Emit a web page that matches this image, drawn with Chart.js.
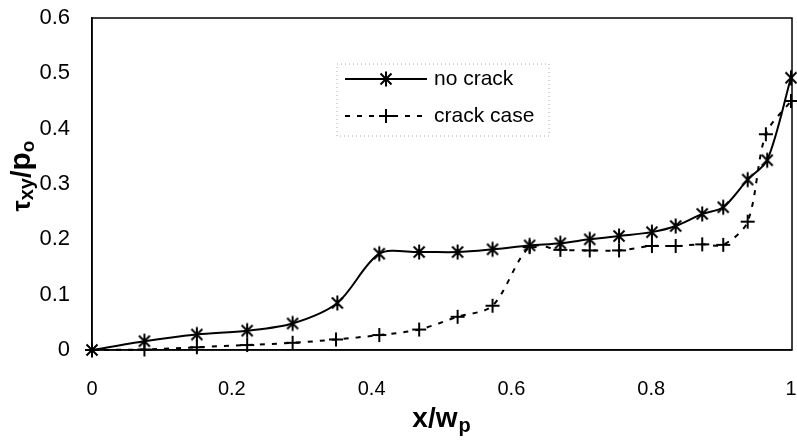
<!DOCTYPE html>
<html>
<head>
<meta charset="utf-8">
<script src="https://cdn.jsdelivr.net/npm/chart.js@4.4.1/dist/chart.umd.min.js"></script>
<style>
  body { margin: 0; background: #fff; }
  #wrap { width: 797px; height: 442px; }
</style>
</head>
<body>
<div id="wrap"><canvas id="chart" width="797" height="442"></canvas></div>
<script>
// values
var xNoCrack = [0, 0.075, 0.15, 0.222, 0.287, 0.351, 0.411, 0.468, 0.523, 0.573, 0.626, 0.670, 0.712, 0.754, 0.801, 0.835, 0.873, 0.903, 0.938, 0.966, 1.0];
var yNoCrack = [0, 0.016, 0.028, 0.035, 0.048, 0.085, 0.174, 0.177, 0.177, 0.182, 0.189, 0.193, 0.200, 0.206, 0.213, 0.224, 0.246, 0.258, 0.308, 0.343, 0.492];
var xCrack = [0, 0.075, 0.15, 0.222, 0.287, 0.349, 0.411, 0.468, 0.523, 0.573, 0.626, 0.670, 0.712, 0.754, 0.801, 0.835, 0.873, 0.903, 0.938, 0.964, 1.0];
var yCrack = [0, 0.001, 0.005, 0.009, 0.013, 0.019, 0.027, 0.037, 0.060, 0.080, 0.186, 0.181, 0.180, 0.180, 0.188, 0.188, 0.191, 0.190, 0.232, 0.390, 0.450];
var seriesNames = ['no crack', 'crack case'];
var xTicks = [0, 0.2, 0.4, 0.6, 0.8, 1];
var yTicks = [0, 0.1, 0.2, 0.3, 0.4, 0.5, 0.6];

var FONT = '"Liberation Sans", Arial, sans-serif';

function toPoints(xs, ys) {
  var pts = [];
  for (var i = 0; i < xs.length; i++) pts.push({x: xs[i], y: ys[i]});
  return pts;
}

// 6-armed asterisk like the old excel marker
function makeStar() {
  var c = document.createElement('canvas');
  c.width = 18; c.height = 18;
  var g = c.getContext('2d');
  g.strokeStyle = '#000';
  g.lineWidth = 2;
  g.beginPath();
  g.moveTo(9, 1.5); g.lineTo(9, 16.5);
  g.moveTo(3.5, 3.5); g.lineTo(14.5, 14.5);
  g.moveTo(14.5, 3.5); g.lineTo(3.5, 14.5);
  g.stroke();
  return c;
}
function makePlus() {
  var c = document.createElement('canvas');
  c.width = 16; c.height = 16;
  var g = c.getContext('2d');
  g.strokeStyle = '#000';
  g.lineWidth = 2;
  g.beginPath();
  g.moveTo(8, 1); g.lineTo(8, 15);
  g.moveTo(1, 8); g.lineTo(15, 8);
  g.stroke();
  return c;
}
var starImg = makeStar();
var plusImg = makePlus();

// border round the plot area
var framePlugin = {
  id: 'frame',
  afterDatasetsDraw: function(chart) {
    var a = chart.chartArea, ctx = chart.ctx;
    ctx.save();
    ctx.strokeStyle = '#000';
    ctx.lineWidth = 1.5;
    ctx.strokeRect(a.left, a.top, a.right - a.left + 1, a.bottom - a.top);
    ctx.restore();
  }
};

// legend box inside the plot
var legendPlugin = {
  id: 'boxLegend',
  afterDraw: function(chart) {
    var ctx = chart.ctx;
    ctx.save();
    ctx.strokeStyle = '#aaa';
    ctx.lineWidth = 1;
    ctx.setLineDash([1, 3]);
    ctx.strokeRect(337, 64, 212, 72);
    var rows = [79, 116];
    var imgs = [starImg, plusImg];
    for (var i = 0; i < 2; i++) {
      var ds = chart.data.datasets[i];
      ctx.strokeStyle = '#000';
      ctx.lineWidth = 2;
      ctx.setLineDash(ds.borderDash || []);
      ctx.beginPath();
      ctx.moveTo(345, rows[i]);
      ctx.lineTo(427, rows[i]);
      ctx.stroke();
      ctx.setLineDash([]);
      ctx.drawImage(imgs[i], 386 - imgs[i].width / 2, rows[i] - imgs[i].height / 2);
      ctx.fillStyle = '#000';
      ctx.font = '21px ' + FONT;
      ctx.textBaseline = 'middle';
      ctx.textAlign = 'left';
      ctx.fillText(ds.label, 434, rows[i]);
    }
    ctx.restore();
  }
};

// axis titles with subscripts
var titlePlugin = {
  id: 'axisTitles',
  afterDraw: function(chart) {
    var ctx = chart.ctx;
    ctx.save();
    ctx.fillStyle = '#000';
    ctx.textBaseline = 'alphabetic';
    ctx.textAlign = 'left';
    // x title
    ctx.font = 'bold 28px ' + FONT;
    var w1 = ctx.measureText('x/w').width;
    ctx.font = 'bold 20px ' + FONT;
    var w2 = ctx.measureText('p').width;
    var x0 = 441 - (w1 + w2) / 2;
    ctx.font = 'bold 28px ' + FONT;
    ctx.fillText('x/w', x0, 427);
    ctx.font = 'bold 20px ' + FONT;
    ctx.fillText('p', x0 + w1 + 1, 432);

    // y title, rotated
    var parts = [
      {t: '\u03C4', f: 'bold 25px ' + FONT, dy: 0},
      {t: 'xy', f: 'bold 20px ' + FONT, dy: 3},
      {t: '/', f: 'bold 27px ' + FONT, dy: 0},
      {t: 'p', f: 'bold 30px ' + FONT, dy: 0},
      {t: 'o', f: 'bold 19px ' + FONT, dy: 4}
    ];
    var total = 0;
    parts.forEach(function(p) { ctx.font = p.f; p.w = ctx.measureText(p.t).width; total += p.w; });
    ctx.translate(30, 176);
    ctx.rotate(-Math.PI / 2);
    var cx = -total / 2;
    parts.forEach(function(p) {
      ctx.font = p.f;
      ctx.fillText(p.t, cx, p.dy);
      cx += p.w;
    });
    ctx.restore();
  }
};

var ctx = document.getElementById('chart').getContext('2d');
var chart = new Chart(ctx, {
  type: 'line',
  data: {
    datasets: [{
      label: seriesNames[0],
      data: toPoints(xNoCrack, yNoCrack),
      borderColor: '#000',
      borderWidth: 2,
      pointStyle: starImg,
      tension: 0.3,
      clip: false
    }, {
      label: seriesNames[1],
      data: toPoints(xCrack, yCrack),
      borderColor: '#000',
      borderWidth: 2,
      borderDash: [5, 7],
      pointStyle: plusImg,
      tension: 0.3,
      clip: false
    }]
  },
  options: {
    responsive: false,
    animation: false,
    layout: { padding: { top: 18, right: 5, left: 0, bottom: 0 } },
    plugins: { legend: { display: false }, tooltip: { enabled: false } },
    scales: {
      x: {
        type: 'linear',
        min: 0, max: 1,
        afterBuildTicks: function(scale) { scale.ticks = xTicks.map(function(v) { return {value: v}; }); },
        afterFit: function(scale) { scale.height = 92; scale.paddingLeft = 0; scale.paddingRight = 0; },
        grid: { display: false, drawTicks: false },
        border: { display: true, color: '#000', width: 1.5 },
        ticks: {
          padding: 27,
          color: '#000',
          font: { family: FONT, size: 20 },
          maxRotation: 0,
          callback: function(v) { return String(+v.toFixed(1)); }
        }
      },
      y: {
        min: 0, max: 0.6,
        afterBuildTicks: function(scale) { scale.ticks = yTicks.map(function(v) { return {value: v}; }); },
        afterFit: function(scale) { scale.width = 92; scale.paddingTop = 0; scale.paddingBottom = 0; },
        grid: { display: false, drawTicks: false },
        border: { display: true, color: '#000', width: 1.5 },
        ticks: {
          padding: 22,
          color: '#000',
          font: { family: FONT, size: 22 },
          callback: function(v) { return String(+v.toFixed(1)); }
        }
      }
    }
  },
  plugins: [framePlugin, legendPlugin, titlePlugin]
});
</script>
</body>
</html>
